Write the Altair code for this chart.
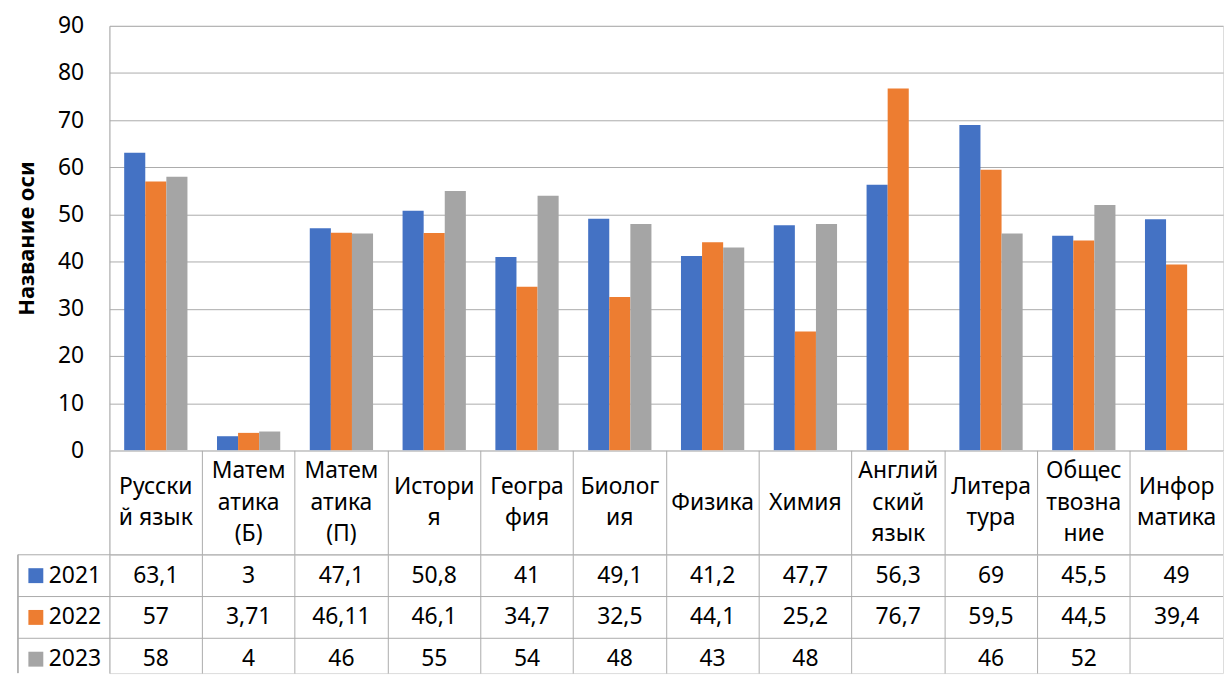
import altair as alt
import pandas as pd

categories = ["Русский язык", "Математика (Б)", "Математика (П)", "История", "География",
              "Биология", "Физика", "Химия", "Английский язык", "Литература",
              "Обществознание", "Информатика"]
header_lines = [["Русски", "й язык"], ["Матем", "атика", "(Б)"], ["Матем", "атика", "(П)"],
                ["Истори", "я"], ["Геогра", "фия"], ["Биолог", "ия"], ["Физика"], ["Химия"],
                ["Англий", "ский", "язык"], ["Литера", "тура"], ["Общес", "твозна", "ние"],
                ["Инфор", "матика"]]
years = ["2021", "2022", "2023"]
v2021 = [63.1, 3, 47.1, 50.8, 41, 49.1, 41.2, 47.7, 56.3, 69, 45.5, 49]
v2022 = [57, 3.71, 46.11, 46.1, 34.7, 32.5, 44.1, 25.2, 76.7, 59.5, 44.5, 39.4]
v2023 = [58, 4, 46, 55, 54, 48, 43, 48, None, 46, 52, None]
colors = ["#4472C4", "#ED7D31", "#A5A5A5"]
y_ticks = list(range(0, 100, 10))

W = 1120
H_TOP = 427
H_HEAD = 105
LINE_H = 32
ROW = 42
H_TAB = 119
GRID = "#ABABAB"
FONT = "Noto Sans"
FS = 23


def fmt(v):
    return ("%g" % v).replace(".", ",")


rows = []
for i, (yr, vals) in enumerate(zip(years, [v2021, v2022, v2023])):
    for c, v in zip(categories, vals):
        rows.append({"category": c, "year": yr, "value": v, "row": i + 0.5,
                     "label": "" if v is None else fmt(v)})
df = pd.DataFrame(rows)
df_bars = df.dropna(subset=["value"])

head_rows = []
for c, lines in zip(categories, header_lines):
    n = len(lines)
    for j, t in enumerate(lines):
        head_rows.append({"category": c, "line": t, "pos": j - (n - 1) / 2})
header_df = pd.DataFrame(head_rows)

xscale = alt.Scale(domain=categories, paddingInner=0, paddingOuter=0)
color_enc = alt.Color("year:N", sort=years, scale=alt.Scale(domain=years, range=colors),
                      legend=None)

bars = alt.Chart(df_bars).mark_bar().encode(
    x=alt.X("category:N", sort=categories, scale=xscale,
            axis=alt.Axis(labels=False, ticks=False, title=None, domain=True,
                          domainColor=GRID, grid=False)),
    xOffset=alt.XOffset("year:N", sort=years,
                        scale=alt.Scale(domain=years, paddingOuter=0.7, paddingInner=0)),
    y=alt.Y("value:Q", scale=alt.Scale(domain=[0, 90], nice=False),
            axis=alt.Axis(values=y_ticks, title="Название оси", titleFontSize=22,
                          titleFontWeight="bold", titlePadding=19, labelFontSize=FS,
                          labelPadding=26, ticks=False, domain=True, domainColor=GRID,
                          gridColor=GRID, titleColor="black", labelColor="black")),
    color=color_enc,
).properties(width=W, height=H_TOP)

half = H_HEAD / (2 * LINE_H)
header = alt.Chart(header_df).mark_text(
    fontSize=FS, baseline="middle", align="center", color="black"
).encode(
    x=alt.X("category:N", sort=categories, scale=xscale,
            axis=alt.Axis(labels=False, ticks=False, domain=False, title=None, grid=True,
                          bandPosition=0, gridColor=GRID)),
    y=alt.Y("pos:Q", scale=alt.Scale(domain=[-half, half], reverse=True, nice=False,
                                     zero=False), axis=None),
    text="line:N",
).properties(width=W, height=H_HEAD)

yrow = alt.Scale(domain=[0, H_TAB / ROW], reverse=True, nice=False, zero=False)

cells = alt.Chart(df).mark_text(fontSize=FS, baseline="middle", align="center",
                                color="black").encode(
    x=alt.X("category:N", sort=categories, scale=xscale,
            axis=alt.Axis(labels=False, ticks=False, domain=False, title=None, grid=True,
                          bandPosition=0, gridColor=GRID)),
    y=alt.Y("row:Q", scale=yrow, axis=None),
    text="label:N",
)

bounds_df = pd.DataFrame({"b": [0, 1, 2]})
hlines = alt.Chart(bounds_df).mark_rule(color=GRID, strokeWidth=1).encode(
    y=alt.Y("b:Q", scale=yrow, axis=None),
    x=alt.value(-92), x2=alt.value(W),
)
vline = alt.Chart(bounds_df).mark_rule(color=GRID, strokeWidth=1).encode(
    x=alt.value(-92), y=alt.value(0), y2=alt.value(H_TAB),
)

legend_df = pd.DataFrame({"year": years, "row": [0.5, 1.5, 2.5]})
squares = alt.Chart(legend_df).mark_square(size=225, opacity=1, filled=True).encode(
    x=alt.value(-74),
    y=alt.Y("row:Q", scale=yrow, axis=None),
    color=color_enc,
)
year_text = alt.Chart(legend_df).mark_text(fontSize=FS, align="left", baseline="middle",
                                           color="black").encode(
    x=alt.value(-61),
    y=alt.Y("row:Q", scale=yrow, axis=None),
    text="year:N",
)

table = alt.layer(cells, hlines, vline, squares, year_text).properties(width=W, height=H_TAB)

chart = alt.vconcat(bars, header, table, spacing=0, bounds="flush").resolve_scale(
    x="shared", y="independent", color="shared"
).properties(
    padding={"left": 7, "top": 4, "right": 0, "bottom": 0}
).configure_view(stroke=None).configure(
    font=FONT
).configure_axis(labelFont=FONT, titleFont=FONT).configure_text(font=FONT)

chart.save("out.html", embed_options={"renderer": "svg", "actions": False})
